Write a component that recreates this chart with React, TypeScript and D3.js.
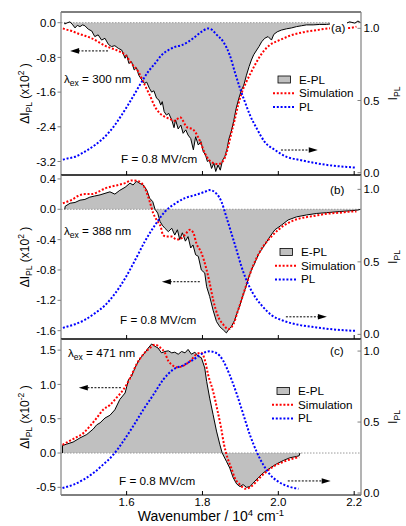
import React from "react";
import * as d3 from "d3";

type Pt = [number, number];

// panel (a), lambda_ex = 300 nm
const aEpl: Pt[] = [
  [1.437, 0.0], [1.437, -0.03], [1.444, 0.0], [1.451, 0.02], [1.458, -0.05], [1.464, -0.12], [1.47, -0.06],
  [1.477, -0.09], [1.484, -0.05], [1.49, -0.07], [1.499, -0.15], [1.508, -0.19], [1.516, -0.32],
  [1.525, -0.28], [1.534, -0.4], [1.543, -0.36], [1.552, -0.5], [1.56, -0.55], [1.569, -0.53],
  [1.578, -0.59], [1.587, -0.63], [1.596, -0.82], [1.6, -0.74], [1.606, -0.94], [1.613, -0.9],
  [1.62, -1.09], [1.626, -1.04], [1.632, -1.21], [1.64, -1.32], [1.647, -1.4], [1.653, -1.37],
  [1.66, -1.51], [1.666, -1.6], [1.672, -1.57], [1.679, -1.74], [1.685, -1.78], [1.69, -1.9],
  [1.694, -1.82], [1.699, -2.05], [1.705, -2.13], [1.711, -2.09], [1.719, -2.24], [1.725, -2.42],
  [1.729, -2.24], [1.736, -2.45], [1.743, -2.36], [1.749, -2.55], [1.756, -2.47], [1.762, -2.59],
  [1.769, -2.67], [1.776, -2.93], [1.782, -2.63], [1.789, -2.82], [1.796, -2.74], [1.802, -2.97],
  [1.808, -3.05], [1.813, -3.2], [1.818, -3.17], [1.824, -3.36], [1.83, -3.24], [1.835, -3.43],
  [1.841, -3.28], [1.847, -3.4], [1.853, -3.17], [1.859, -3.09], [1.865, -2.9], [1.87, -2.67],
  [1.876, -2.51], [1.882, -2.28], [1.889, -1.97], [1.896, -1.74], [1.903, -1.55], [1.909, -1.44],
  [1.916, -1.21], [1.923, -1.01], [1.929, -0.86], [1.935, -0.74], [1.943, -0.63], [1.949, -0.55],
  [1.956, -0.44], [1.964, -0.36], [1.973, -0.32], [1.982, -0.4], [1.988, -0.27], [1.997, -0.21],
  [2.008, -0.17], [2.022, -0.14], [2.035, -0.12], [2.048, -0.09], [2.061, -0.07], [2.074, -0.05],
  [2.092, -0.05], [2.109, -0.04], [2.127, -0.04], [2.145, -0.02], [2.162, -0.03], [2.18, -0.01],
  [2.188, 0.02], [2.202, -0.01], [2.21, 0.04], [2.217, 0.0],
];
const aSim: Pt[] = [
  [1.432, -0.13], [1.438, -0.15], [1.455, -0.19], [1.472, -0.25], [1.49, -0.3], [1.508, -0.36],
  [1.525, -0.44], [1.543, -0.53], [1.56, -0.59], [1.578, -0.65], [1.596, -0.74], [1.613, -0.94],
  [1.631, -1.13], [1.648, -1.44], [1.661, -1.67], [1.675, -1.94], [1.688, -2.09], [1.701, -2.17],
  [1.714, -2.22], [1.727, -2.26], [1.741, -2.18], [1.758, -2.4], [1.776, -2.47], [1.793, -2.72],
  [1.806, -3.0], [1.819, -3.18], [1.83, -3.24], [1.841, -3.26], [1.855, -3.18], [1.868, -2.85],
  [1.876, -2.55], [1.885, -2.24], [1.894, -1.9], [1.903, -1.63], [1.916, -1.36], [1.929, -1.13],
  [1.943, -0.9], [1.96, -0.67], [1.978, -0.51], [2.004, -0.4], [2.03, -0.3], [2.065, -0.22],
  [2.101, -0.17], [2.136, -0.13], [2.17, -0.12], [2.188, -0.12], [2.206, -0.09],
];
const aPl: Pt[] = [
  [1.432, 0.09], [1.438, 0.095], [1.464, 0.11], [1.49, 0.146], [1.516, 0.19], [1.543, 0.25],
  [1.569, 0.33], [1.587, 0.4], [1.604, 0.47], [1.622, 0.55], [1.64, 0.63], [1.657, 0.7],
  [1.675, 0.757], [1.692, 0.814], [1.71, 0.849], [1.727, 0.871], [1.745, 0.883], [1.762, 0.906],
  [1.78, 0.94], [1.797, 0.975], [1.815, 0.999], [1.825, 0.99], [1.836, 0.96], [1.855, 0.906],
  [1.872, 0.814], [1.885, 0.7], [1.899, 0.584], [1.912, 0.49], [1.925, 0.4], [1.943, 0.307],
  [1.964, 0.214], [1.991, 0.157], [2.022, 0.11], [2.057, 0.088], [2.101, 0.065], [2.145, 0.048],
  [2.18, 0.04], [2.206, 0.035],
];

// panel (b), lambda_ex = 388 nm
const bEpl: Pt[] = [
  [1.437, 0.0], [1.438, 0.04], [1.451, 0.08], [1.464, 0.09], [1.477, 0.12], [1.49, 0.13], [1.503, 0.16],
  [1.516, 0.175], [1.53, 0.19], [1.543, 0.21], [1.556, 0.23], [1.569, 0.2], [1.582, 0.25],
  [1.596, 0.29], [1.609, 0.345], [1.617, 0.32], [1.626, 0.37], [1.635, 0.34], [1.644, 0.32],
  [1.653, 0.255], [1.661, 0.145], [1.669, 0.1], [1.675, 0.0], [1.682, -0.05], [1.688, -0.16],
  [1.694, -0.21], [1.701, -0.25], [1.71, -0.295], [1.719, -0.25], [1.727, -0.34], [1.734, -0.27],
  [1.74, -0.4], [1.747, -0.31], [1.755, -0.42], [1.762, -0.36], [1.769, -0.51], [1.775, -0.47],
  [1.782, -0.6], [1.789, -0.62], [1.797, -0.8], [1.806, -0.84], [1.811, -1.02], [1.819, -1.15],
  [1.828, -1.33], [1.837, -1.48], [1.846, -1.55], [1.855, -1.59], [1.863, -1.63], [1.87, -1.58],
  [1.876, -1.55], [1.885, -1.46], [1.894, -1.33], [1.903, -1.2], [1.912, -1.06], [1.92, -0.93],
  [1.929, -0.8], [1.938, -0.71], [1.947, -0.6], [1.956, -0.53], [1.964, -0.47], [1.978, -0.36],
  [1.991, -0.27], [2.008, -0.21], [2.026, -0.14], [2.048, -0.1], [2.074, -0.075], [2.101, -0.055],
  [2.127, -0.045], [2.162, -0.03], [2.188, -0.02], [2.21, -0.01], [2.217, 0.0],
];
const bSim: Pt[] = [
  [1.432, 0.08], [1.438, 0.09], [1.455, 0.125], [1.472, 0.175], [1.49, 0.2], [1.508, 0.2],
  [1.525, 0.23], [1.543, 0.275], [1.56, 0.3], [1.578, 0.32], [1.596, 0.345], [1.613, 0.38],
  [1.631, 0.37], [1.648, 0.28], [1.661, 0.1], [1.67, -0.05], [1.679, -0.14], [1.69, -0.23],
  [1.696, -0.34], [1.705, -0.36], [1.719, -0.36], [1.732, -0.4], [1.745, -0.38], [1.758, -0.31],
  [1.767, -0.27], [1.776, -0.31], [1.784, -0.45], [1.797, -0.57], [1.811, -0.8], [1.819, -0.97],
  [1.828, -1.19], [1.841, -1.41], [1.855, -1.52], [1.868, -1.58], [1.881, -1.52], [1.894, -1.33],
  [1.907, -1.13], [1.92, -0.93], [1.933, -0.75], [1.947, -0.6], [1.96, -0.49], [1.978, -0.38],
  [2.0, -0.27], [2.026, -0.18], [2.057, -0.12], [2.092, -0.09], [2.127, -0.06], [2.162, -0.045],
  [2.197, -0.03], [2.206, -0.03],
];
const bPl: Pt[] = [
  [1.432, 0.045], [1.438, 0.05], [1.464, 0.07], [1.49, 0.1], [1.516, 0.145], [1.543, 0.2],
  [1.569, 0.28], [1.596, 0.386], [1.622, 0.51], [1.648, 0.64], [1.675, 0.754], [1.701, 0.846],
  [1.727, 0.9], [1.754, 0.94], [1.78, 0.96], [1.806, 0.983], [1.819, 0.995], [1.837, 0.97],
  [1.85, 0.915], [1.863, 0.81], [1.876, 0.7], [1.89, 0.58], [1.903, 0.466], [1.916, 0.374],
  [1.933, 0.283], [1.956, 0.2], [1.982, 0.133], [2.013, 0.094], [2.057, 0.064], [2.101, 0.048],
  [2.145, 0.034], [2.197, 0.025], [2.206, 0.024],
];

// panel (c), lambda_ex = 471 nm
const cEpl: Pt[] = [
  [1.431, 0.0], [1.431, 0.11], [1.442, 0.13], [1.459, 0.16], [1.477, 0.22], [1.495, 0.27],
  [1.512, 0.35], [1.521, 0.41], [1.53, 0.44], [1.543, 0.51], [1.556, 0.55], [1.569, 0.63],
  [1.582, 0.78], [1.596, 0.875], [1.605, 1.07], [1.613, 1.12], [1.622, 1.24], [1.631, 1.34],
  [1.64, 1.41], [1.648, 1.46], [1.657, 1.53], [1.666, 1.59], [1.675, 1.555], [1.683, 1.53],
  [1.692, 1.46], [1.701, 1.48], [1.71, 1.49], [1.719, 1.46], [1.727, 1.47], [1.736, 1.44],
  [1.745, 1.48], [1.754, 1.46], [1.762, 1.51], [1.771, 1.44], [1.78, 1.47], [1.789, 1.41],
  [1.797, 1.39], [1.806, 1.24], [1.811, 1.045], [1.819, 0.8], [1.828, 0.56], [1.837, 0.32],
  [1.846, 0.12], [1.852, 0.0], [1.863, -0.12], [1.872, -0.22], [1.881, -0.36], [1.89, -0.45],
  [1.899, -0.49], [1.907, -0.46], [1.916, -0.5], [1.925, -0.49], [1.933, -0.44], [1.947, -0.36],
  [1.96, -0.29], [1.978, -0.22], [1.995, -0.16], [2.013, -0.11], [2.03, -0.07], [2.048, -0.05],
  [2.055, -0.04], [2.057, 0.0],
];
const cSim: Pt[] = [
  [1.431, 0.12], [1.451, 0.18], [1.468, 0.23], [1.486, 0.29], [1.503, 0.39], [1.521, 0.51],
  [1.538, 0.63], [1.556, 0.7], [1.574, 0.81], [1.591, 0.92], [1.609, 1.09], [1.626, 1.29],
  [1.644, 1.44], [1.661, 1.53], [1.675, 1.58], [1.688, 1.54], [1.701, 1.46], [1.71, 1.34],
  [1.719, 1.29], [1.732, 1.25], [1.745, 1.26], [1.758, 1.3], [1.771, 1.36], [1.784, 1.44],
  [1.797, 1.46], [1.806, 1.36], [1.815, 1.14], [1.828, 0.9], [1.84, 0.61], [1.849, 0.37],
  [1.857, 0.12], [1.866, -0.07], [1.876, -0.22], [1.885, -0.36], [1.899, -0.46], [1.912, -0.52],
  [1.925, -0.5], [1.938, -0.44], [1.951, -0.36], [1.969, -0.27], [1.986, -0.2], [2.004, -0.15],
  [2.022, -0.11], [2.039, -0.08], [2.055, -0.06],
];
const cPl: Pt[] = [
  [1.431, 0.035], [1.459, 0.058], [1.486, 0.094], [1.512, 0.14], [1.538, 0.2], [1.565, 0.27],
  [1.591, 0.364], [1.617, 0.47], [1.644, 0.587], [1.67, 0.69], [1.697, 0.8], [1.723, 0.87],
  [1.749, 0.9], [1.776, 0.94], [1.802, 0.986], [1.819, 0.998], [1.837, 0.986], [1.855, 0.93],
  [1.872, 0.83], [1.89, 0.7], [1.907, 0.56], [1.925, 0.41], [1.943, 0.29], [1.96, 0.2],
  [1.978, 0.13], [2.0, 0.08], [2.026, 0.047], [2.053, 0.03],
];

const xTicks = [1.6, 1.8, 2.0, 2.2];
const aTicks = [0, -0.8, -1.6, -2.4, -3.2];
const bTicks = [0.4, 0, -0.4, -0.8, -1.2, -1.6];
const cTicks = [1.5, 1.0, 0.5, 0, -0.5];
const plTicks = [0, 0.5, 1.0];

const FONT = "'Liberation Sans', Arial, Helvetica, sans-serif";
const LEFT = 61;
const RIGHT = 361;

const x = d3.scaleLinear().domain([1.427, 2.218]).range([LEFT, RIGHT]);

const fmt = (v: number) => (v === 0 ? "0.0" : v.toFixed(1));

const Arrow = ({ x1, x2, y }: { x1: number; x2: number; y: number }) => {
  const dir = x2 > x1 ? 1 : -1;
  return (
    <g>
      <line x1={x1} x2={x2 - dir * 6} y1={y} y2={y} stroke="#000" strokeWidth={1} strokeDasharray="2,1.5" />
      <path d={`M${x2},${y} L${x2 - dir * 9},${y - 2.8} L${x2 - dir * 9},${y + 2.8} Z`} fill="#000" />
    </g>
  );
};

const Panel = (p: any) => {
  const y = d3.scaleLinear().domain(p.yDomain).range([p.bottom, p.top]);
  const yi = d3.scaleLinear().domain(p.iDomain).range([p.bottom, p.top]);
  const line = d3.line<Pt>().x((d) => x(d[0])).y((d) => y(d[1]));
  const smooth = d3.line<Pt>().x((d) => x(d[0])).y((d) => y(d[1])).curve(d3.curveMonotoneX);
  const smoothI = d3.line<Pt>().x((d) => x(d[0])).y((d) => yi(d[1])).curve(d3.curveMonotoneX);
  const area = d3.area<Pt>().x((d) => x(d[0])).y0(y(0)).y1((d) => y(d[1]));
  const clipId = "clip-" + p.name;
  const cy = (p.top + p.bottom) / 2;
  const lx = p.legend[0];
  const ly = p.legend[1];

  return (
    <g>
      <defs>
        <clipPath id={clipId}>
          <rect x={LEFT} y={p.top} width={RIGHT - LEFT} height={p.bottom - p.top} />
        </clipPath>
      </defs>
      <g clipPath={`url(#${clipId})`}>
        <path d={area(p.epl) || ""} fill="#c0c0c0" />
        <line x1={LEFT} x2={RIGHT} y1={y(0)} y2={y(0)} stroke="#9a9a9a" strokeWidth={1} strokeDasharray="1.5,1.5" />
        <path d={line(p.epl) || ""} fill="none" stroke="#000" strokeWidth={1} />
        <path d={smooth(p.sim) || ""} fill="none" stroke="#ff0000" strokeWidth={2} strokeDasharray="2,1.8" />
        <path d={smoothI(p.pl) || ""} fill="none" stroke="#0000ff" strokeWidth={2} strokeDasharray="2,1.8" />
      </g>

      {/* frame */}
      <line x1={LEFT} x2={RIGHT} y1={p.top} y2={p.top} stroke="#000" strokeWidth={1} />
      <line x1={LEFT} x2={RIGHT} y1={p.bottom} y2={p.bottom} stroke="#000" strokeWidth={1} />
      <line x1={LEFT} x2={LEFT} y1={p.top} y2={p.bottom} stroke="#808080" strokeWidth={1.2} />
      <line x1={RIGHT} x2={RIGHT} y1={p.top} y2={p.bottom} stroke="#808080" strokeWidth={1.2} />

      {/* x ticks */}
      {xTicks.map((t) => (
        <line key={t} x1={x(t)} x2={x(t)} y1={p.bottom} y2={p.bottom - 4} stroke="#000" strokeWidth={1} />
      ))}

      {/* left axis */}
      {p.yTicks.map((t: number) => (
        <g key={"l" + t}>
          <line x1={LEFT - 3.5} x2={LEFT} y1={y(t)} y2={y(t)} stroke="#808080" strokeWidth={1} />
          <text x={LEFT - 5} y={y(t)} dy="0.36em" textAnchor="end" fontSize={11.5} fontFamily={FONT}>
            {fmt(t)}
          </text>
        </g>
      ))}

      {/* right axis */}
      {plTicks.map((t) => (
        <g key={"r" + t}>
          <line x1={RIGHT - 3.5} x2={RIGHT} y1={yi(t)} y2={yi(t)} stroke="#808080" strokeWidth={1} />
          <text x={RIGHT + 2.5} y={yi(t)} dy="0.36em" fontSize={11.5} fontFamily={FONT}>
            {fmt(t)}
          </text>
        </g>
      ))}

      {/* axis titles */}
      <text transform={`translate(29,${cy}) rotate(-90)`} textAnchor="middle" fontSize={12} fontFamily={FONT}>
        ΔI<tspan fontSize={8.5} dy={3}>PL</tspan>
        <tspan dy={-3}> (x10</tspan>
        <tspan fontSize={8.5} dy={-5}>{p.exp}</tspan>
        <tspan dy={5}> )</tspan>
      </text>
      <text transform={`translate(397,${cy}) rotate(-90)`} textAnchor="middle" fontSize={12.5} fontFamily={FONT}>
        I<tspan fontSize={8.5} dy={3}>PL</tspan>
      </text>

      {/* annotations */}
      <text x={p.lam[0]} y={p.lam[1]} fontSize={11.7} fontFamily={FONT}>
        λ<tspan fontSize={8.5} dy={3}>ex</tspan>
        <tspan dy={-3}>{` = ${p.ex} nm`}</tspan>
      </text>
      <text x={p.field[0]} y={p.field[1]} fontSize={11.7} fontFamily={FONT}>
        F = 0.8 MV/cm
      </text>
      <rect x={p.tag[0] - 1} y={p.tag[1] - 10} width={17} height={13} fill="#fff" />
      <text x={p.tag[0]} y={p.tag[1]} fontSize={11.7} fontFamily={FONT}>
        {`(${p.name})`}
      </text>

      <Arrow x1={x(p.arrowL[0])} x2={x(p.arrowL[1])} y={y(p.arrowL[2])} />
      <Arrow x1={x(p.arrowR[0])} x2={x(p.arrowR[1])} y={yi(p.arrowR[2])} />

      {/* legend */}
      <rect x={lx - 21} y={ly - 7.5} width={12.5} height={7} fill="#c0c0c0" stroke="#000" strokeWidth={0.8} />
      <text x={lx} y={ly} fontSize={11.7} fontFamily={FONT}>E-PL</text>
      <line x1={lx - 26} x2={lx - 4} y1={ly + 13.7 - 4} y2={ly + 13.7 - 4} stroke="#ff0000" strokeWidth={2} strokeDasharray="2,1.8" />
      <text x={lx} y={ly + 13.7} fontSize={11.7} fontFamily={FONT}>Simulation</text>
      <line x1={lx - 26} x2={lx - 4} y1={ly + 27.4 - 4} y2={ly + 27.4 - 4} stroke="#0000ff" strokeWidth={2} strokeDasharray="2,1.8" />
      <text x={lx} y={ly + 27.4} fontSize={11.7} fontFamily={FONT}>PL</text>
    </g>
  );
};

const App = () => {
  return (
    <svg width={406} height={526} style={{ position: "absolute", left: 0, top: 0, background: "#fff" }}>
      <Panel
        name="a" top={12} bottom={175} yDomain={[-3.511, 0.247]} iDomain={[-0.016, 1.113]}
        yTicks={aTicks} epl={aEpl} sim={aSim} pl={aPl} exp="2" ex="300"
        lam={[64, 82.5]} field={[121, 163]} tag={[331, 31.5]} legend={[299, 83.5]}
        arrowL={[1.551, 1.451, -0.65]} arrowR={[2.007, 2.104, 0.157]}
      />
      <Panel
        name="b" top={175} bottom={339} yDomain={[-1.71, 0.452]} iDomain={[-0.032, 1.099]}
        yTicks={bTicks} epl={bEpl} sim={bSim} pl={bPl} exp="2" ex="388"
        lam={[64, 235]} field={[120, 324]} tag={[330, 194]} legend={[301, 256]}
        arrowL={[1.793, 1.693, -0.955]} arrowR={[2.02, 2.128, 0.121]}
      />
      <Panel
        name="c" top={339} bottom={495} yDomain={[-0.612, 1.662]} iDomain={[-0.014, 1.085]}
        yTicks={cTicks} epl={cEpl} sim={cSim} pl={cPl} exp="-2" ex="471"
        lam={[68, 356.5]} field={[119, 485]} tag={[330, 354.5]} legend={[298, 395]}
        arrowL={[1.585, 1.474, 0.952]} arrowR={[2.025, 2.138, 0.085]}
      />
      {xTicks.map((t) => (
        <text key={t} x={x(t)} y={505.5} textAnchor="middle" fontSize={11.5} fontFamily={FONT}>
          {t.toFixed(1)}
        </text>
      ))}
      <text x={211} y={520.5} textAnchor="middle" fontSize={14} fontFamily={FONT}>
        Wavenumber / 10<tspan fontSize={9.5} dy={-5}>4</tspan>
        <tspan dy={5}> cm</tspan>
        <tspan fontSize={9.5} dy={-5}>-1</tspan>
      </text>
    </svg>
  );
};

export default App;
